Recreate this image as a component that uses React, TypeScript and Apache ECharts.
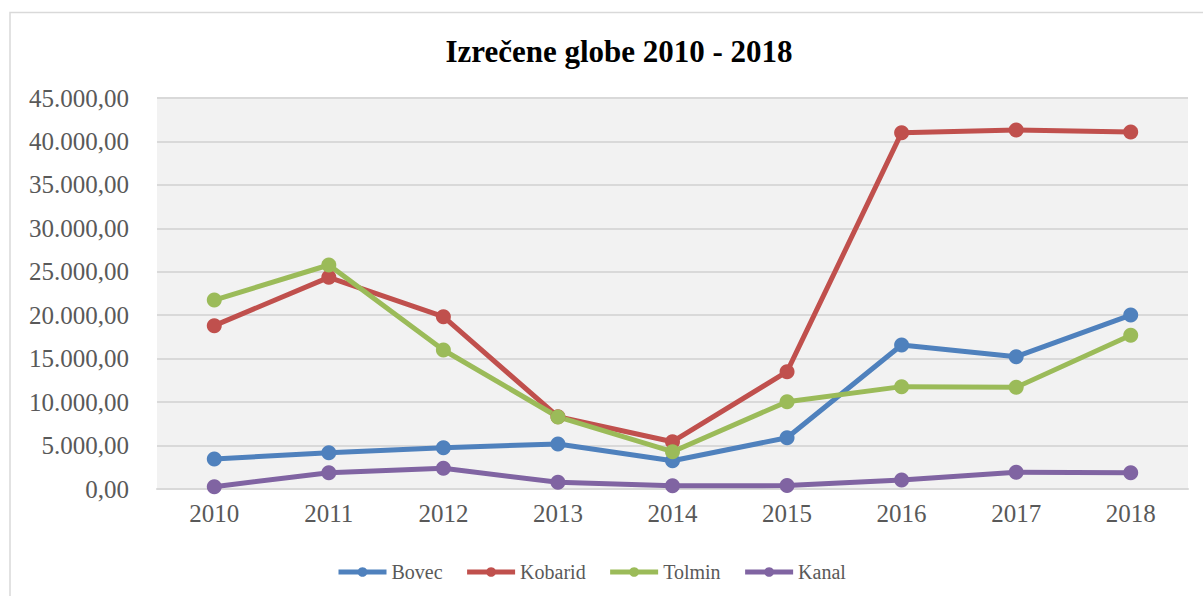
import React, { useEffect, useRef } from "react";
import * as echarts from "echarts";

const years = ["2010", "2011", "2012", "2013", "2014", "2015", "2016", "2017", "2018"];
const bovec = [3450, 4180, 4750, 5180, 3260, 5900, 16570, 15230, 20020];
const kobarid = [18800, 24360, 19830, 8320, 5440, 13500, 41010, 41320, 41090];
const tolmin = [21750, 25780, 16000, 8290, 4290, 10050, 11780, 11700, 17690];
const kanal = [270, 1880, 2380, 770, 380, 390, 1040, 1920, 1880];

const seriesNames = ["Bovec", "Kobarid", "Tolmin", "Kanal"];
const seriesData = [bovec, kobarid, tolmin, kanal];
const colors = ["#4f81bd", "#c0504d", "#9bbb59", "#8064a2"];

const FONT = "'Liberation Serif', serif";

function fmt(v: number): string {
  const fixed = v.toFixed(2);
  const [int, dec] = fixed.split(".");
  const withDots = int.replace(/\B(?=(\d{3})+(?!\d))/g, ".");
  return withDots + "," + dec;
}

export default function App() {
  const ref = useRef<HTMLDivElement>(null);
  useEffect(() => {
    if (!ref.current) return;
    const chart = echarts.init(ref.current, null, { renderer: "svg" });
    chart.setOption({
      animation: false,
      backgroundColor: "#ffffff",
      textStyle: { fontFamily: FONT },
      title: {
        text: "Izrečene globe 2010 - 2018",
        left: 614,
        top: 31,
        textAlign: "center",
        textStyle: { fontFamily: FONT, fontWeight: "bold", fontSize: 31, color: "#000000" },
      },
      graphic: [
        {
          type: "rect",
          shape: { x: 10, y: 12.5, width: 1200, height: 600 },
          style: { fill: "none", stroke: "#d9d9d9", lineWidth: 1.5 },
          silent: true,
          z: -1,
        },
      ],
      legend: {
        top: 557,
        left: 331,
        itemWidth: 48,
        itemHeight: 12,
        itemGap: 22,
        lineStyle: { width: 5 },
        formatter: "{a|{name}}",
        textStyle: {
          fontFamily: FONT,
          fontSize: 20,
          fontWeight: "normal",
          color: "#595959",
          rich: {
            a: { fontFamily: FONT, fontSize: 20, fontWeight: "normal", color: "#595959" },
          },
        },
        data: seriesNames,
      },
      grid: {
        left: 157,
        top: 98,
        right: 15,
        bottom: 107,
        show: true,
        backgroundColor: "#f2f2f2",
        borderWidth: 0,
      },
      xAxis: {
        type: "category",
        data: years,
        boundaryGap: true,
        axisLine: { show: true, lineStyle: { color: "#d9d9d9", width: 2 } },
        axisTick: { show: false },
        axisLabel: { fontFamily: FONT, fontSize: 25, color: "#595959", margin: 12 },
      },
      yAxis: {
        type: "value",
        min: 0,
        max: 45000,
        interval: 5000,
        axisLine: { show: false },
        axisTick: { show: false },
        splitLine: { lineStyle: { color: "#d9d9d9", width: 2 } },
        axisLabel: {
          fontFamily: FONT,
          fontSize: 25,
          color: "#595959",
          margin: 28,
          formatter: (v: number) => fmt(v),
        },
      },
      series: seriesNames.map((name, i) => ({
        name,
        type: "line",
        data: seriesData[i],
        symbol: "circle",
        symbolSize: 15,
        color: colors[i],
        lineStyle: { width: 5, color: colors[i] },
        itemStyle: { color: colors[i] },
      })),
    });
    return () => chart.dispose();
  }, []);
  return (
    <div
      ref={ref}
      style={{ position: "fixed", left: 0, top: 0, width: 1203, height: 596 }}
    />
  );
}
